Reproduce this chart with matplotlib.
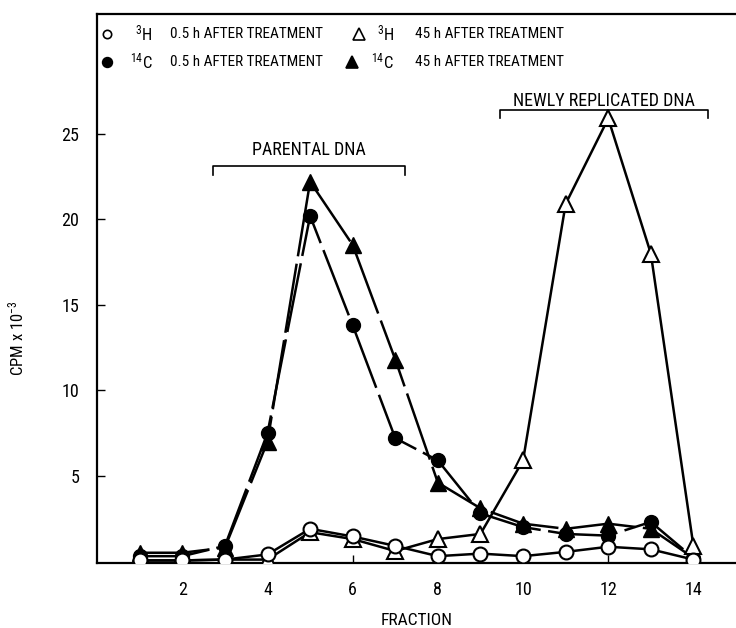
import matplotlib
matplotlib.use('Agg')
import matplotlib.pyplot as plt
import numpy as np

plt.rcParams['font.family'] = ['Roboto Condensed', 'DejaVu Sans']
plt.rcParams['mathtext.fontset'] = 'custom'
plt.rcParams['mathtext.rm'] = 'Roboto Condensed'
plt.rcParams['mathtext.it'] = 'Roboto Condensed'

# data (CPM x 10^-3)
fraction = [1, 2, 3, 4, 5, 6, 7, 8, 9, 10, 11, 12, 13, 14]
h3_05h = [0.05, 0.05, 0.1, 0.4, 1.9, 1.45, 0.9, 0.3, 0.45, 0.3, 0.55, 0.85, 0.7, 0.1]
c14_05h = [0.3, 0.3, 0.9, 7.5, 20.2, 13.8, 7.2, 5.9, 2.8, 2.0, 1.6, 1.5, 2.3, 0.2]
h3_45h = [0.05, 0.05, 0.1, 0.1, 1.7, 1.3, 0.6, 1.3, 1.6, 5.9, 20.9, 25.9, 18.0, 0.9]
c14_45h = [0.5, 0.5, 0.8, 7.0, 22.2, 18.5, 11.8, 4.6, 3.1, 2.2, 1.9, 2.2, 1.9, 0.2]

xticks = [2, 4, 6, 8, 10, 12, 14]
yticks = [5, 10, 15, 20, 25]

fig = plt.figure(figsize=(7.36, 6.28), dpi=100)
ax = fig.add_axes([0.132, 0.1035, 0.868, 0.874])

lw = 1.8
ax.plot(fraction, c14_45h, color='black', lw=lw, dashes=(28, 3), marker='^',
        ms=11, mfc='black', mec='black', zorder=3)
ax.plot(fraction, c14_05h, color='black', lw=lw, dashes=(28, 3), marker='o',
        ms=10, mfc='black', mec='black', zorder=3)
ax.plot(fraction, h3_45h, color='black', lw=lw, marker='^',
        ms=11, mfc='white', mec='black', mew=1.5, zorder=4)
ax.plot(fraction, h3_05h, color='black', lw=lw, marker='o',
        ms=10, mfc='white', mec='black', mew=1.5, zorder=4)

ax.set_xlim(0, 15)
ax.set_ylim(-0.1, 32)
ax.set_xticks(xticks)
ax.set_yticks(yticks)
ax.tick_params(direction='in', length=6, width=1, labelsize=13, pad=13)
for s in ['top', 'left', 'bottom']:
    ax.spines[s].set_linewidth(1.6)
ax.spines['right'].set_visible(False)

ax.set_xlabel('FRACTION', fontsize=12.5, labelpad=10)
ax.set_ylabel('CPM x 10$^{-3}$', fontsize=12)
ax.yaxis.set_label_coords(-0.111, 0.41)

# brackets
def bracket(x0, x1, y, h, label, ly):
    ax.plot([x0, x0, x1, x1], [y - h, y, y, y - h], color='black', lw=1.2)
    ax.text((x0 + x1) / 2, ly, label, ha='center', va='bottom', fontsize=13)

bracket(2.73, 7.22, 23.1, 0.5, 'PARENTAL DNA', 23.5)
bracket(9.45, 14.35, 26.4, 0.5, 'NEWLY REPLICATED DNA', 26.4)

# legend drawn by hand
rows = [
    (0.964, 'o', 'white', 6, r'$^{3}$H', 0.0156, 0.059, '^', 'white', r'$^{3}$H', 0.41, 0.438),
    (0.913, 'o', 'black', 7, r'$^{14}$C', 0.0156, 0.052, '^', 'black', r'$^{14}$C', 0.399, 0.428),
]
for y, m1, f1, s1, iso1, mx1, tx1, m2, f2, iso2, mx2, tx2 in rows:
    ax.plot([mx1], [y], marker=m1, ms=s1, mfc=f1, mec='black', mew=1.2,
            transform=ax.transAxes, clip_on=False)
    ax.text(tx1, y, iso1, transform=ax.transAxes, va='center', fontsize=12)
    ax.text(0.114, y, '0.5 h AFTER TREATMENT', transform=ax.transAxes, va='center', fontsize=11)
    ax.plot([mx2], [y], marker=m2, ms=9, mfc=f2, mec='black', mew=1.2,
            transform=ax.transAxes, clip_on=False)
    ax.text(tx2, y, iso2, transform=ax.transAxes, va='center', fontsize=12)
    ax.text(0.498, y, '45 h AFTER TREATMENT', transform=ax.transAxes, va='center', fontsize=11)

plt.savefig('out.png', dpi=100)
